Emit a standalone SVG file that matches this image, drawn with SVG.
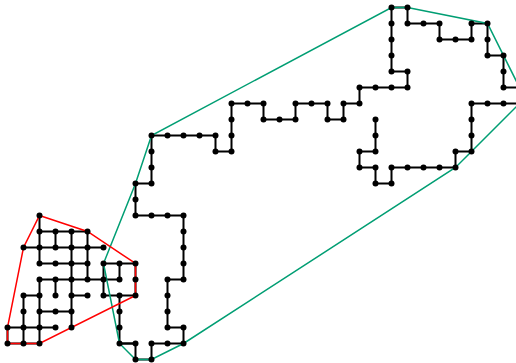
<svg xmlns="http://www.w3.org/2000/svg" width="516" height="363" viewBox="0 0 516 363">
<style>
.e{fill:none;stroke:#000;stroke-width:2;stroke-linejoin:miter}
.hg{fill:none;stroke:#009E73;stroke-width:1.5}
.hr{fill:none;stroke:#FF0000;stroke-width:1.5}
.n circle{fill:#000}
</style>
<rect width="516" height="363" fill="#fff"/>
<g id="connectors">
<polyline id="chain" class="e" points="375.5,119.5 375.5,151.5 359.5,151.5 359.5,167.5 375.5,167.5 375.5,183.5 391.5,183.5 391.5,167.5 455.5,167.5 455.5,151.5 471.5,151.5 471.5,103.5 519.5,103.5 519.5,87.5 503.5,87.5 503.5,55.5 487.5,55.5 487.5,23.5 471.5,23.5 471.5,39.5 439.5,39.5 439.5,23.5 407.5,23.5 407.5,7.5 391.5,7.5 391.5,71.5 407.5,71.5 407.5,87.5 359.5,87.5 359.5,103.5 343.5,103.5 343.5,119.5 327.5,119.5 327.5,103.5 295.5,103.5 295.5,119.5 263.5,119.5 263.5,103.5 231.5,103.5 231.5,151.5 215.5,151.5 215.5,135.5 151.5,135.5 151.5,183.5 135.5,183.5 135.5,215.5 183.5,215.5 183.5,279.5 167.5,279.5 167.5,327.5 183.5,327.5 183.5,343.5 151.5,343.5 151.5,359.5 135.5,359.5 135.5,343.5 119.5,343.5 119.5,295.5"/>
<path id="cluster" class="e" d="M39.5 231.5H87.5 M23.5 247.5H103.5 M39.5 263.5H87.5 M103.5 263.5H135.5 M39.5 279.5H119.5 M23.5 295.5H39.5 M71.5 295.5H87.5 M103.5 295.5H135.5 M39.5 311.5H71.5 M7.5 327.5H55.5 M7.5 343.5H39.5 M7.5 327.5V343.5 M23.5 295.5V343.5 M39.5 215.5V263.5 M39.5 279.5V343.5 M55.5 231.5V247.5 M55.5 279.5V295.5 M71.5 231.5V327.5 M87.5 231.5V279.5 M103.5 263.5V295.5 M119.5 263.5V279.5 M135.5 263.5V295.5 M119.5 343.5H135.5"/>
<polygon id="hull-green" class="hg" points="391.5,7.5 407.5,7.5 487.5,23.5 519.5,87.5 519.5,103.5 471.5,151.5 455.5,167.5 183.5,343.5 151.5,359.5 135.5,359.5 119.5,343.5 103.5,263.5 135.5,183.5 151.5,135.5"/>
<polygon id="hull-red" class="hr" points="39.5,215.5 87.5,231.5 135.5,263.5 135.5,295.5 39.5,343.5 7.5,343.5 7.5,327.5 23.5,247.5"/>
</g>
<g id="nodes" class="n">
<g id="n23-7"><circle cx="375.5" cy="119.5" r="3"/></g>
<g id="n23-8"><circle cx="375.5" cy="135.5" r="3"/></g>
<g id="n23-9"><circle cx="375.5" cy="151.5" r="3"/></g>
<g id="n22-9"><circle cx="359.5" cy="151.5" r="3"/></g>
<g id="n22-10"><circle cx="359.5" cy="167.5" r="3"/></g>
<g id="n23-10"><circle cx="375.5" cy="167.5" r="3"/></g>
<g id="n23-11"><circle cx="375.5" cy="183.5" r="3"/></g>
<g id="n24-11"><circle cx="391.5" cy="183.5" r="3"/></g>
<g id="n24-10"><circle cx="391.5" cy="167.5" r="3"/></g>
<g id="n25-10"><circle cx="407.5" cy="167.5" r="3"/></g>
<g id="n26-10"><circle cx="423.5" cy="167.5" r="3"/></g>
<g id="n27-10"><circle cx="439.5" cy="167.5" r="3"/></g>
<g id="n28-10"><circle cx="455.5" cy="167.5" r="3"/></g>
<g id="n28-9"><circle cx="455.5" cy="151.5" r="3"/></g>
<g id="n29-9"><circle cx="471.5" cy="151.5" r="3"/></g>
<g id="n29-8"><circle cx="471.5" cy="135.5" r="3"/></g>
<g id="n29-7"><circle cx="471.5" cy="119.5" r="3"/></g>
<g id="n29-6"><circle cx="471.5" cy="103.5" r="3"/></g>
<g id="n30-6"><circle cx="487.5" cy="103.5" r="3"/></g>
<g id="n31-6"><circle cx="503.5" cy="103.5" r="3"/></g>
<g id="n31-5"><circle cx="503.5" cy="87.5" r="3"/></g>
<g id="n31-4"><circle cx="503.5" cy="71.5" r="3"/></g>
<g id="n31-3"><circle cx="503.5" cy="55.5" r="3"/></g>
<g id="n30-3"><circle cx="487.5" cy="55.5" r="3"/></g>
<g id="n30-2"><circle cx="487.5" cy="39.5" r="3"/></g>
<g id="n30-1"><circle cx="487.5" cy="23.5" r="3"/></g>
<g id="n29-1"><circle cx="471.5" cy="23.5" r="3"/></g>
<g id="n29-2"><circle cx="471.5" cy="39.5" r="3"/></g>
<g id="n28-2"><circle cx="455.5" cy="39.5" r="3"/></g>
<g id="n27-2"><circle cx="439.5" cy="39.5" r="3"/></g>
<g id="n27-1"><circle cx="439.5" cy="23.5" r="3"/></g>
<g id="n26-1"><circle cx="423.5" cy="23.5" r="3"/></g>
<g id="n25-1"><circle cx="407.5" cy="23.5" r="3"/></g>
<g id="n25-0"><circle cx="407.5" cy="7.5" r="3"/></g>
<g id="n24-0"><circle cx="391.5" cy="7.5" r="3"/></g>
<g id="n24-1"><circle cx="391.5" cy="23.5" r="3"/></g>
<g id="n24-2"><circle cx="391.5" cy="39.5" r="3"/></g>
<g id="n24-3"><circle cx="391.5" cy="55.5" r="3"/></g>
<g id="n24-4"><circle cx="391.5" cy="71.5" r="3"/></g>
<g id="n25-4"><circle cx="407.5" cy="71.5" r="3"/></g>
<g id="n25-5"><circle cx="407.5" cy="87.5" r="3"/></g>
<g id="n24-5"><circle cx="391.5" cy="87.5" r="3"/></g>
<g id="n23-5"><circle cx="375.5" cy="87.5" r="3"/></g>
<g id="n22-5"><circle cx="359.5" cy="87.5" r="3"/></g>
<g id="n22-6"><circle cx="359.5" cy="103.5" r="3"/></g>
<g id="n21-6"><circle cx="343.5" cy="103.5" r="3"/></g>
<g id="n21-7"><circle cx="343.5" cy="119.5" r="3"/></g>
<g id="n20-7"><circle cx="327.5" cy="119.5" r="3"/></g>
<g id="n20-6"><circle cx="327.5" cy="103.5" r="3"/></g>
<g id="n19-6"><circle cx="311.5" cy="103.5" r="3"/></g>
<g id="n18-6"><circle cx="295.5" cy="103.5" r="3"/></g>
<g id="n18-7"><circle cx="295.5" cy="119.5" r="3"/></g>
<g id="n17-7"><circle cx="279.5" cy="119.5" r="3"/></g>
<g id="n16-7"><circle cx="263.5" cy="119.5" r="3"/></g>
<g id="n16-6"><circle cx="263.5" cy="103.5" r="3"/></g>
<g id="n15-6"><circle cx="247.5" cy="103.5" r="3"/></g>
<g id="n14-6"><circle cx="231.5" cy="103.5" r="3"/></g>
<g id="n14-7"><circle cx="231.5" cy="119.5" r="3"/></g>
<g id="n14-8"><circle cx="231.5" cy="135.5" r="3"/></g>
<g id="n14-9"><circle cx="231.5" cy="151.5" r="3"/></g>
<g id="n13-9"><circle cx="215.5" cy="151.5" r="3"/></g>
<g id="n13-8"><circle cx="215.5" cy="135.5" r="3"/></g>
<g id="n12-8"><circle cx="199.5" cy="135.5" r="3"/></g>
<g id="n11-8"><circle cx="183.5" cy="135.5" r="3"/></g>
<g id="n10-8"><circle cx="167.5" cy="135.5" r="3"/></g>
<g id="n9-8"><circle cx="151.5" cy="135.5" r="3"/></g>
<g id="n9-9"><circle cx="151.5" cy="151.5" r="3"/></g>
<g id="n9-10"><circle cx="151.5" cy="167.5" r="3"/></g>
<g id="n9-11"><circle cx="151.5" cy="183.5" r="3"/></g>
<g id="n8-11"><circle cx="135.5" cy="183.5" r="3"/></g>
<g id="n8-12"><circle cx="135.5" cy="199.5" r="3"/></g>
<g id="n8-13"><circle cx="135.5" cy="215.5" r="3"/></g>
<g id="n9-13"><circle cx="151.5" cy="215.5" r="3"/></g>
<g id="n10-13"><circle cx="167.5" cy="215.5" r="3"/></g>
<g id="n11-13"><circle cx="183.5" cy="215.5" r="3"/></g>
<g id="n11-14"><circle cx="183.5" cy="231.5" r="3"/></g>
<g id="n11-15"><circle cx="183.5" cy="247.5" r="3"/></g>
<g id="n11-16"><circle cx="183.5" cy="263.5" r="3"/></g>
<g id="n11-17"><circle cx="183.5" cy="279.5" r="3"/></g>
<g id="n10-17"><circle cx="167.5" cy="279.5" r="3"/></g>
<g id="n10-18"><circle cx="167.5" cy="295.5" r="3"/></g>
<g id="n10-19"><circle cx="167.5" cy="311.5" r="3"/></g>
<g id="n10-20"><circle cx="167.5" cy="327.5" r="3"/></g>
<g id="n11-20"><circle cx="183.5" cy="327.5" r="3"/></g>
<g id="n11-21"><circle cx="183.5" cy="343.5" r="3"/></g>
<g id="n10-21"><circle cx="167.5" cy="343.5" r="3"/></g>
<g id="n9-21"><circle cx="151.5" cy="343.5" r="3"/></g>
<g id="n9-22"><circle cx="151.5" cy="359.5" r="3"/></g>
<g id="n8-22"><circle cx="135.5" cy="359.5" r="3"/></g>
<g id="n8-21"><circle cx="135.5" cy="343.5" r="3"/></g>
<g id="n7-21"><circle cx="119.5" cy="343.5" r="3"/></g>
<g id="n7-20"><circle cx="119.5" cy="327.5" r="3"/></g>
<g id="n7-19"><circle cx="119.5" cy="311.5" r="3"/></g>
<g id="n7-18"><circle cx="119.5" cy="295.5" r="3"/></g>
<g id="n2-13"><circle cx="39.5" cy="215.5" r="3"/></g>
<g id="n2-14"><circle cx="39.5" cy="231.5" r="3"/></g>
<g id="n3-14"><circle cx="55.5" cy="231.5" r="3"/></g>
<g id="n4-14"><circle cx="71.5" cy="231.5" r="3"/></g>
<g id="n5-14"><circle cx="87.5" cy="231.5" r="3"/></g>
<g id="n1-15"><circle cx="23.5" cy="247.5" r="3"/></g>
<g id="n2-15"><circle cx="39.5" cy="247.5" r="3"/></g>
<g id="n3-15"><circle cx="55.5" cy="247.5" r="3"/></g>
<g id="n4-15"><circle cx="71.5" cy="247.5" r="3"/></g>
<g id="n5-15"><circle cx="87.5" cy="247.5" r="3"/></g>
<g id="n6-15"><circle cx="103.5" cy="247.5" r="3"/></g>
<g id="n2-16"><circle cx="39.5" cy="263.5" r="3"/></g>
<g id="n3-16"><circle cx="55.5" cy="263.5" r="3"/></g>
<g id="n4-16"><circle cx="71.5" cy="263.5" r="3"/></g>
<g id="n5-16"><circle cx="87.5" cy="263.5" r="3"/></g>
<g id="n6-16"><circle cx="103.5" cy="263.5" r="3"/></g>
<g id="n7-16"><circle cx="119.5" cy="263.5" r="3"/></g>
<g id="n8-16"><circle cx="135.5" cy="263.5" r="3"/></g>
<g id="n2-17"><circle cx="39.5" cy="279.5" r="3"/></g>
<g id="n3-17"><circle cx="55.5" cy="279.5" r="3"/></g>
<g id="n4-17"><circle cx="71.5" cy="279.5" r="3"/></g>
<g id="n5-17"><circle cx="87.5" cy="279.5" r="3"/></g>
<g id="n6-17"><circle cx="103.5" cy="279.5" r="3"/></g>
<g id="n7-17"><circle cx="119.5" cy="279.5" r="3"/></g>
<g id="n8-17"><circle cx="135.5" cy="279.5" r="3"/></g>
<g id="n1-18"><circle cx="23.5" cy="295.5" r="3"/></g>
<g id="n2-18"><circle cx="39.5" cy="295.5" r="3"/></g>
<g id="n3-18"><circle cx="55.5" cy="295.5" r="3"/></g>
<g id="n4-18"><circle cx="71.5" cy="295.5" r="3"/></g>
<g id="n5-18"><circle cx="87.5" cy="295.5" r="3"/></g>
<g id="n6-18"><circle cx="103.5" cy="295.5" r="3"/></g>
<g id="n8-18"><circle cx="135.5" cy="295.5" r="3"/></g>
<g id="n1-19"><circle cx="23.5" cy="311.5" r="3"/></g>
<g id="n2-19"><circle cx="39.5" cy="311.5" r="3"/></g>
<g id="n3-19"><circle cx="55.5" cy="311.5" r="3"/></g>
<g id="n4-19"><circle cx="71.5" cy="311.5" r="3"/></g>
<g id="n0-20"><circle cx="7.5" cy="327.5" r="3"/></g>
<g id="n1-20"><circle cx="23.5" cy="327.5" r="3"/></g>
<g id="n2-20"><circle cx="39.5" cy="327.5" r="3"/></g>
<g id="n3-20"><circle cx="55.5" cy="327.5" r="3"/></g>
<g id="n4-20"><circle cx="71.5" cy="327.5" r="3"/></g>
<g id="n0-21"><circle cx="7.5" cy="343.5" r="3"/></g>
<g id="n1-21"><circle cx="23.5" cy="343.5" r="3"/></g>
<g id="n2-21"><circle cx="39.5" cy="343.5" r="3"/></g>
</g>
</svg>
